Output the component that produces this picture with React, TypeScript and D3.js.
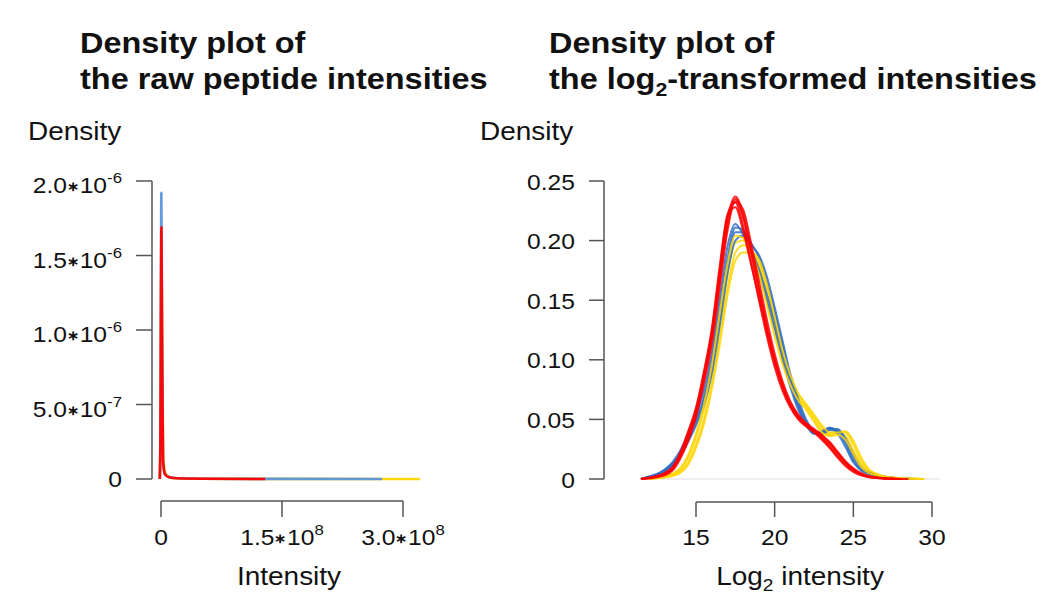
import React from "react";
import * as d3 from "d3";

// ---------- Data ----------
const logGrid = [11.5, 12, 12.5, 13, 13.5, 14, 14.5, 15, 15.5, 16, 16.5, 17, 17.5, 18, 18.5, 19, 19.5, 20, 20.5, 21, 21.5, 22, 22.5, 23, 23.5, 24, 24.5, 25, 25.5, 26, 26.5, 27, 27.5, 28, 28.5, 29, 29.5];

const redCurves = [
  [0, .001, .002, .004, .008, .020, .036, .056, .085, .120, .170, .218, .237, .222, .192, .160, .128, .100, .078, .062, .052, .045, .040, .035, .029, .021, .014, .008, .004, .002, .001, .0005, .0002, 0, 0, 0, 0],
  [0, .001, .002, .005, .010, .022, .040, .060, .090, .126, .178, .222, .232, .212, .182, .150, .120, .094, .074, .060, .050, .044, .039, .033, .026, .018, .011, .006, .003, .0015, .0008, .0004, .0001, 0, 0, 0, 0],
  [0, .0005, .0015, .003, .007, .017, .032, .052, .080, .113, .160, .208, .233, .226, .198, .166, .134, .105, .082, .065, .054, .047, .042, .037, .031, .023, .015, .009, .005, .0025, .0012, .0006, .0003, .0001, 0, 0, 0],
  [0, .001, .0025, .005, .009, .021, .038, .058, .088, .123, .174, .220, .228, .208, .180, .152, .124, .098, .077, .061, .051, .045, .040, .034, .027, .019, .012, .007, .0035, .0018, .0009, .0004, .0002, 0, 0, 0, 0],
  [0, .0008, .002, .004, .008, .019, .034, .054, .083, .117, .166, .213, .235, .219, .190, .158, .127, .100, .079, .063, .053, .046, .041, .036, .030, .022, .014, .008, .004, .002, .001, .0005, .0002, 0, 0, 0, 0],
];

const blueCurves = [
  [0, .002, .004, .007, .013, .022, .035, .050, .068, .098, .140, .185, .211, .209, .198, .186, .166, .140, .112, .085, .063, .047, .038, .039, .043, .040, .030, .016, .008, .005, .003, .002, .001, .0005, .0002, 0, 0],
  [0, .002, .004, .008, .014, .024, .038, .054, .074, .105, .150, .195, .214, .205, .190, .172, .150, .126, .100, .077, .058, .045, .038, .040, .043, .038, .027, .014, .007, .004, .0025, .0015, .0008, .0004, .0002, 0, 0],
  [0, .0015, .003, .006, .011, .019, .031, .045, .062, .088, .128, .172, .200, .204, .196, .188, .170, .144, .116, .088, .067, .050, .040, .038, .041, .041, .034, .021, .010, .005, .003, .002, .001, .0005, .0002, 0, 0],
  [0, .0018, .0035, .007, .012, .021, .033, .048, .066, .095, .136, .180, .207, .207, .192, .176, .155, .132, .106, .081, .061, .047, .039, .037, .042, .042, .033, .019, .009, .005, .003, .002, .001, .0005, .0002, 0, 0],
];

const yellowCurves = [
  [0, 0, .001, .002, .004, .008, .018, .035, .058, .090, .130, .172, .198, .200, .192, .178, .152, .125, .100, .082, .068, .060, .050, .040, .037, .039, .036, .024, .012, .006, .003, .002, .001, .0007, .0004, .0002, 0],
  [0, 0, .0008, .0015, .003, .006, .014, .029, .050, .080, .118, .160, .190, .196, .192, .182, .160, .132, .106, .086, .071, .062, .053, .043, .038, .040, .039, .029, .015, .007, .004, .002, .0012, .0008, .0004, .0002, 0],
  [0, 0, .001, .002, .0045, .009, .020, .038, .062, .095, .138, .180, .204, .202, .190, .172, .146, .120, .096, .079, .066, .058, .048, .039, .036, .037, .033, .021, .010, .005, .003, .0018, .001, .0006, .0003, .0001, 0],
  [0, 0, .0006, .0012, .0025, .005, .012, .026, .046, .075, .112, .154, .183, .190, .190, .184, .164, .136, .108, .087, .072, .063, .054, .045, .039, .039, .040, .032, .018, .008, .004, .0022, .0013, .0008, .0004, .0002, 0],
];

const rawRedX = [-1.5e6, -0.6e6, 0, 0.5e6, 1.2e6, 2.5e6, 5e6, 1e7, 2e7, 5e7, 1.29e8];
const rawRedY = [0, 0.35e-6, 1.25e-6, 1.69e-6, 1.05e-6, 0.12e-6, 0.03e-6, 0.012e-6, 0.005e-6, 0.002e-6, 0];
const rawBlueX = [-1.5e6, -0.6e6, 0, 0.4e6, 1.2e6, 2.5e6, 5e6, 1e7, 2e7, 5e7, 1.5e8, 2.74e8];
const rawBlueY = [0, 0.4e-6, 1.4e-6, 1.92e-6, 1.1e-6, 0.13e-6, 0.035e-6, 0.013e-6, 0.005e-6, 0.002e-6, 0.0008e-6, 0];
const rawYellowX = [-1.5e6, -0.6e6, 0, 0.5e6, 1.3e6, 2.8e6, 5.5e6, 1e7, 2e7, 5e7, 1.5e8, 3.21e8];
const rawYellowY = [0, 0.3e-6, 1.1e-6, 1.55e-6, 1.0e-6, 0.15e-6, 0.04e-6, 0.014e-6, 0.005e-6, 0.002e-6, 0.0008e-6, 0];

const rawYTicks = [0, 5e-7, 1e-6, 1.5e-6, 2e-6];
const rawYLabels = [["0", ""], ["5.0", "-7"], ["1.0", "-6"], ["1.5", "-6"], ["2.0", "-6"]];
const rawXTicks = [0, 1.5e8, 3e8];
const rawXLabels = [["0", ""], ["1.5", "8"], ["3.0", "8"]];
const logYTicks = [0, 0.05, 0.1, 0.15, 0.2, 0.25];
const logYLabels = ["0", "0.05", "0.10", "0.15", "0.20", "0.25"];
const logXTicks = [15, 20, 25, 30];

const RED = "#FF0000";
const BLUE = "#2E6CC6";
const YELLOW = "#FFD500";

// ---------- Layout ----------
const SX = 1.12;
const FONT = "'Liberation Sans', Arial, Helvetica, sans-serif";
const AXIS = "#555";

const rawX = d3.scaleLinear().domain([0, 1.5e8]).range([161, 282]);
const rawY = d3.scaleLinear().domain([0, 2e-6]).range([479, 181]);
const logX = d3.scaleLinear().domain([15, 30]).range([696, 932]);
const logY = d3.scaleLinear().domain([0, 0.25]).range([479, 181]);

function Txt({ x, y, anchor = "start", size = 22, weight = "normal", children }: any) {
  return (
    <text
      transform={`translate(${x},${y}) scale(${SX},1)`}
      textAnchor={anchor}
      fontSize={size}
      fontWeight={weight}
      fontFamily={FONT}
      fill="#111"
    >
      {children}
    </text>
  );
}

function SciLabel({ m, e }: { m: string; e: string }) {
  if (!e) return <tspan>{m}</tspan>;
  return (
    <>
      <tspan>{m}</tspan>
      <tspan fontSize={13} dy={-2} fontWeight="bold">∗</tspan>
      <tspan dy={2}>10</tspan>
      <tspan fontSize={15} dy={-10}>{e}</tspan>
    </>
  );
}

function trimmed(vals: number[]) {
  let first = 0;
  while (first < vals.length - 1 && vals[first + 1] === 0) first++;
  let last = vals.length - 1;
  while (last > 0 && vals[last - 1] === 0) last--;
  const pts: [number, number][] = [];
  for (let i = first; i <= last; i++) pts.push([logGrid[i], vals[i]]);
  return pts;
}

const logLine = d3
  .line<[number, number]>()
  .x((d) => logX(d[0]))
  .y((d) => logY(d[1]))
  .curve(d3.curveMonotoneX);

const rawLine = d3
  .line<[number, number]>()
  .x((d) => rawX(d[0]))
  .y((d) => rawY(d[1]))
  .curve(d3.curveMonotoneX);

function zip(xs: number[], ys: number[]): [number, number][] {
  return xs.map((x, i) => [x, ys[i]]);
}

export default function App() {
  const rawSeries = [
    { pts: zip(rawYellowX, rawYellowY), color: YELLOW },
    { pts: zip(rawBlueX, rawBlueY), color: "#5B93DE" },
    { pts: zip(rawRedX, rawRedY), color: RED },
  ];
  const logSeries = [
    ...yellowCurves.slice(0, 2).map((c) => ({ c, color: YELLOW })),
    ...blueCurves.map((c) => ({ c, color: BLUE })),
    ...yellowCurves.slice(2).map((c) => ({ c, color: YELLOW })),
    ...redCurves.map((c) => ({ c, color: RED })),
  ];

  return (
    <svg
      width={1042}
      height={610}
      style={{ position: "absolute", left: 0, top: 0, background: "#fff" }}
    >
      <rect width={1042} height={610} fill="#fff" />
      {/* Titles */}
      <Txt x={80} y={53} size={29} weight="bold">Density plot of</Txt>
      <Txt x={80} y={89} size={29} weight="bold">the raw peptide intensities</Txt>
      <Txt x={549} y={53} size={29} weight="bold">Density plot of</Txt>
      <Txt x={549} y={89} size={29} weight="bold">
        <tspan>the log</tspan>
        <tspan fontSize={19} dy={7}>2</tspan>
        <tspan dy={-7}>-transformed intensities</tspan>
      </Txt>

      {/* Y axis titles */}
      <Txt x={28} y={140} size={25}>Density</Txt>
      <Txt x={480} y={140} size={25}>Density</Txt>

      {/* ===== Left panel ===== */}
      <line x1={152} x2={152} y1={rawY(2e-6)} y2={rawY(0)} stroke={AXIS} strokeWidth={1.5} />
      {rawYTicks.map((t, i) => (
        <g key={"ryt" + i}>
          <line x1={136} x2={152} y1={rawY(t)} y2={rawY(t)} stroke={AXIS} strokeWidth={1.5} />
          <Txt x={122} y={rawY(t) + (rawYLabels[i][1] ? 12 : 8)} anchor="end">
            <SciLabel m={rawYLabels[i][0]} e={rawYLabels[i][1]} />
          </Txt>
        </g>
      ))}
      <line x1={rawX(0)} x2={rawX(3e8)} y1={501} y2={501} stroke={AXIS} strokeWidth={1.5} />
      {rawXTicks.map((t, i) => (
        <g key={"rxt" + i}>
          <line x1={rawX(t)} x2={rawX(t)} y1={501} y2={517} stroke={AXIS} strokeWidth={1.5} />
          <Txt x={rawX(t)} y={545} anchor="middle">
            <SciLabel m={rawXLabels[i][0]} e={rawXLabels[i][1]} />
          </Txt>
        </g>
      ))}
      <Txt x={289} y={585} anchor="middle" size={25}>Intensity</Txt>
      {rawSeries.map((s, i) => (
        <path key={"rs" + i} d={rawLine(s.pts) || ""} fill="none" stroke={s.color} strokeWidth={2.6} strokeOpacity={0.95} strokeLinejoin="round" />
      ))}

      {/* ===== Right panel ===== */}
      <line x1={604} x2={604} y1={logY(0.25)} y2={logY(0)} stroke={AXIS} strokeWidth={1.5} />
      {logYTicks.map((t, i) => (
        <g key={"lyt" + i}>
          <line x1={589} x2={604} y1={logY(t)} y2={logY(t)} stroke={AXIS} strokeWidth={1.5} />
          <Txt x={575} y={logY(t) + 8.5} anchor="end">{logYLabels[i]}</Txt>
        </g>
      ))}
      <line x1={logX(15)} x2={logX(30)} y1={502} y2={502} stroke={AXIS} strokeWidth={1.5} />
      {logXTicks.map((t, i) => (
        <g key={"lxt" + i}>
          <line x1={logX(t)} x2={logX(t)} y1={502} y2={517} stroke={AXIS} strokeWidth={1.5} />
          <Txt x={logX(t)} y={545} anchor="middle">{String(t)}</Txt>
        </g>
      ))}
      <Txt x={800} y={585} anchor="middle" size={25}>
        <tspan>Log</tspan>
        <tspan fontSize={17} dy={6}>2</tspan>
        <tspan dy={-6}> intensity</tspan>
      </Txt>
      <line x1={logX(11.5)} x2={logX(30.5)} y1={logY(0)} y2={logY(0)} stroke="#eee" strokeWidth={2} />
      {logSeries.map((s, i) => (
        <path key={"ls" + i} d={logLine(trimmed(s.c)) || ""} fill="none" stroke={s.color} strokeWidth={2} strokeOpacity={0.85} strokeLinejoin="round" />
      ))}
    </svg>
  );
}
